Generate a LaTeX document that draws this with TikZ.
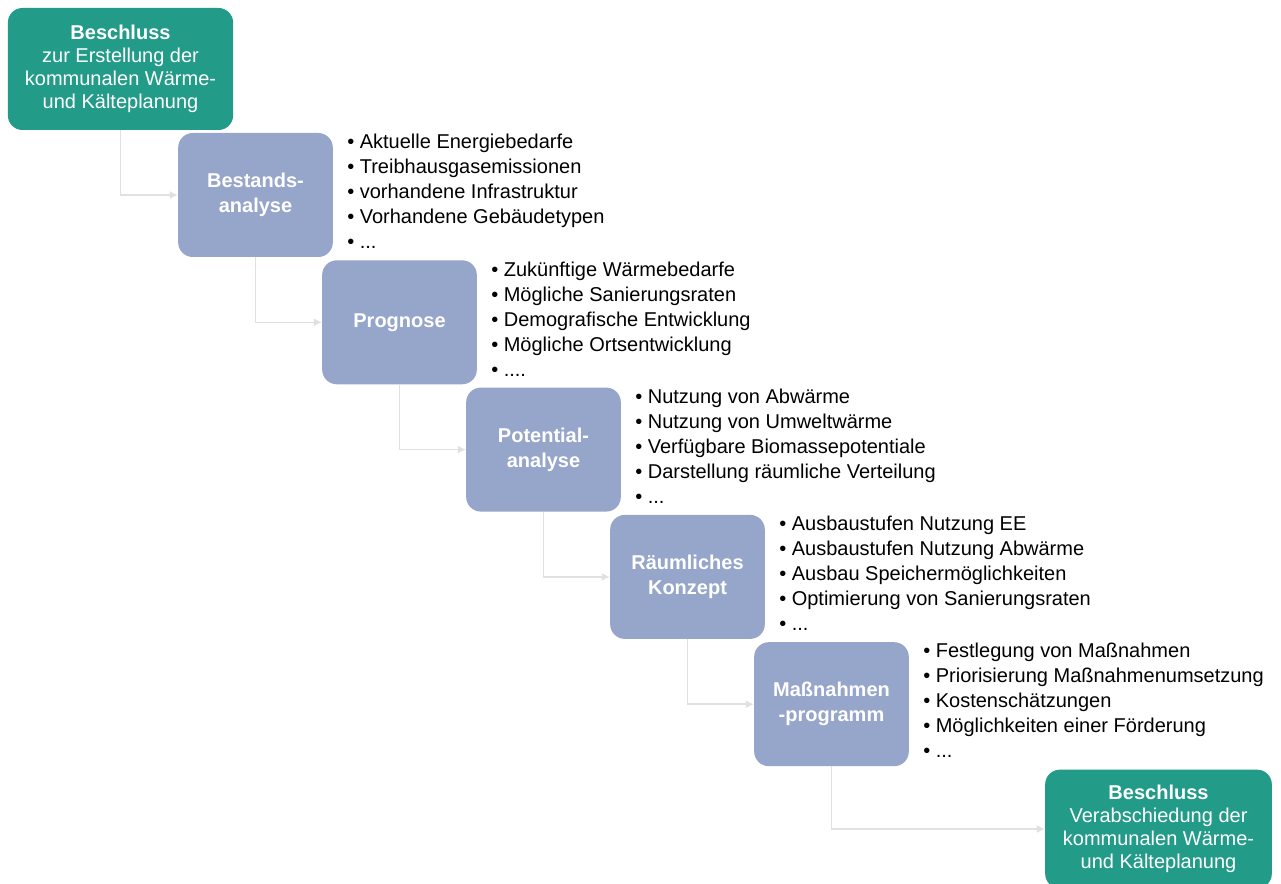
\documentclass[tikz,border=0pt]{standalone}
\usepackage{fontspec}
\setmainfont{Liberation Sans}
\usetikzlibrary{arrows.meta}

\definecolor{boxteal}{RGB}{35,155,137}
\definecolor{boxblue}{RGB}{150,165,202}

\tikzset{
  stepbox/.style={rectangle, rounded corners=11pt, fill=boxblue, text=white,
    font=\fontsize{15}{18.75}\selectfont\bfseries, align=center,
    minimum width=116pt, minimum height=93pt, inner sep=2pt},
  decision/.style={rectangle, rounded corners=11pt, fill=boxteal, text=white,
    font=\fontsize{15}{17.25}\selectfont, align=center, inner sep=2pt},
  itemlist/.style={anchor=north west, align=left, inner sep=0pt,
    font=\fontsize{15}{18.75}\selectfont},
  flow/.style={draw=black!12, line width=1.2pt, -{Latex[length=6pt,width=6pt]}}
}

\begin{document}
\begin{tikzpicture}[x=0.75pt,y=-0.75pt]
  \useasboundingbox (0,0) rectangle (1281,884);

  % decisions at start and end
  \node[decision, minimum width=169pt, minimum height=91.5pt] (start) at (120.5,69)
    {\textbf{Beschluss}\\zur Erstellung der\\kommunalen Wärme-\\und Kälteplanung};
  \node[decision, minimum width=170pt, minimum height=89pt] (finish) at (1158.5,829)
    {\textbf{Beschluss}\\Verabschiedung der\\kommunalen Wärme-\\und Kälteplanung};

  % the five steps
  \node[stepbox] (bestand)  at (255.5,195)   {Bestands-\\analyse};
  \node[stepbox] (prognose) at (399.5,322.3) {Prognose};
  \node[stepbox] (potential) at (543.5,449.6) {Potential-\\analyse};
  \node[stepbox] (konzept)  at (687.5,576.9) {Räumliches\\Konzept};
  \node[stepbox] (massnahme) at (831.5,704.2) {Maßnahmen\\-programm};

  % what each step contains
  \node[itemlist] (list1) at (347,134) {• Aktuelle Energiebedarfe\\• Treibhausgasemissionen\\• vorhandene Infrastruktur\\• Vorhandene Gebäudetypen\\• ...};
  \node[itemlist] (list2) at (491,261.3) {• Zukünftige Wärmebedarfe\\• Mögliche Sanierungsraten\\• Demografische Entwicklung\\• Mögliche Ortsentwicklung\\• ....};
  \node[itemlist] (list3) at (635,388.6) {• Nutzung von Abwärme\\• Nutzung von Umweltwärme\\• Verfügbare Biomassepotentiale\\• Darstellung räumliche Verteilung\\• ...};
  \node[itemlist] (list4) at (779,515.9) {• Ausbaustufen Nutzung EE\\• Ausbaustufen Nutzung Abwärme\\• Ausbau Speichermöglichkeiten\\• Optimierung von Sanierungsraten\\• ...};
  \node[itemlist] (list5) at (923,643.2) {• Festlegung von Maßnahmen\\• Priorisierung Maßnahmenumsetzung\\• Kostenschätzungen\\• Möglichkeiten einer Förderung\\• ...};

  % faint connectors
  \draw[flow] (start.south) |- (bestand.west);
  \draw[flow] (bestand.south) |- (prognose.west);
  \draw[flow] (prognose.south) |- (potential.west);
  \draw[flow] (potential.south) |- (konzept.west);
  \draw[flow] (konzept.south) |- (massnahme.west);
  \draw[flow] (massnahme.south) |- (finish.west);
\end{tikzpicture}
\end{document}
